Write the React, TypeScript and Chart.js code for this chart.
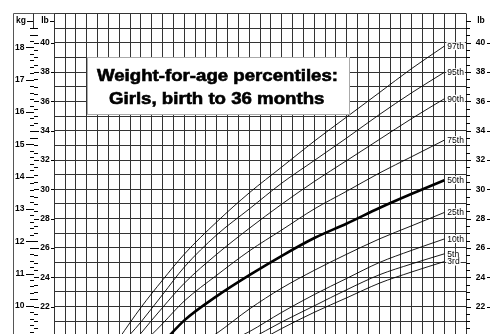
import React, { useEffect, useRef } from "react";
import { Chart, registerables } from "chart.js";

Chart.register(...registerables);

// ---- data (kg) ----
const months = [0, 2, 4, 6, 8, 10, 12, 15, 18, 21, 24, 27, 30, 33, 36];
const p97 = [4.2, 6.4, 8.0, 9.0, 9.95, 10.8, 11.6, 12.6, 13.5, 14.3, 15.1, 15.85, 16.6, 17.35, 18.04];
const p95 = [4.0, 6.1, 7.6, 8.7, 9.5, 10.35, 11.2, 12.2, 13.0, 13.8, 14.5, 15.2, 15.92, 16.6, 17.23];
const p90 = [3.8, 5.8, 7.2, 8.3, 9.15, 9.95, 10.7, 11.6, 12.4, 13.15, 13.85, 14.5, 15.15, 15.8, 16.41];
const p75 = [3.6, 5.4, 6.8, 7.9, 8.75, 9.45, 10.15, 10.95, 11.7, 12.35, 13.0, 13.55, 14.11, 14.62, 15.13];
const p50 = [3.4, 5.0, 6.3, 7.3, 8.15, 8.85, 9.55, 10.3, 10.95, 11.55, 12.1, 12.55, 13.03, 13.47, 13.89];
const p25 = [3.2, 4.6, 5.7, 6.6, 7.35, 7.95, 8.5, 9.15, 9.9, 10.55, 11.1, 11.6, 12.07, 12.48, 12.89];
const p10 = [2.9, 4.2, 5.3, 6.15, 6.85, 7.4, 7.95, 8.7, 9.2, 9.8, 10.35, 10.85, 11.34, 11.72, 12.07];
const p5 = [2.7, 4.0, 5.1, 5.95, 6.6, 7.15, 7.7, 8.4, 8.95, 9.5, 10.0, 10.5, 10.96, 11.3, 11.61];
const p3 = [2.6, 3.9, 5.0, 5.8, 6.45, 7.0, 7.55, 8.2, 8.75, 9.3, 9.8, 10.25, 10.7, 11.05, 11.37];

const seriesNames = ["97th", "95th", "90th", "75th", "50th", "25th", "10th", "5th", "3rd"];
const seriesValues = [p97, p95, p90, p75, p50, p25, p10, p5, p3];

const kgTicks = [10, 11, 12, 13, 14, 15, 16, 17, 18];
const lbTicks = [22, 24, 26, 28, 30, 32, 34, 36, 38, 40];
const titleLines = ["Weight-for-age percentiles:", "Girls, birth to 36 months"];

const LB_PER_KG = 2.20462;
const LB_MIN = 20.123;
const LB_MAX = 42;
const FONT = "'Liberation Sans', Arial, Helvetica, sans-serif";

const decorPlugin = {
  id: "decor",
  afterDatasetsDraw(chart: any) {
    const ctx = chart.ctx;
    const xs = chart.scales.x;
    const ylb = chart.scales.y;
    const ykg = chart.scales.kg;
    const area = chart.chartArea;
    ctx.save();

    // outer frame
    ctx.strokeStyle = "#555";
    ctx.lineWidth = 1;
    ctx.beginPath();
    ctx.moveTo(13.5, 334);
    ctx.lineTo(13.5, area.top);
    ctx.lineTo(area.left, area.top);
    ctx.stroke();

    // header divider
    ctx.strokeStyle = "#333";
    ctx.beginPath();
    ctx.moveTo(33.5, area.top);
    ctx.lineTo(33.5, ylb.getPixelForValue(41));
    ctx.stroke();

    ctx.fillStyle = "#000";
    ctx.textBaseline = "middle";
    ctx.font = `bold 8.5px ${FONT}`;
    const hy = ylb.getPixelForValue(41.5);
    ctx.textAlign = "center";
    ctx.fillText("kg", 21, hy);
    ctx.fillText("lb", 45, hy);
    ctx.fillText("lb", 481, hy);
    ctx.strokeStyle = "#000";
    ctx.beginPath();
    ctx.moveTo(27, Math.round(hy) + 0.5);
    ctx.lineTo(33, Math.round(hy) + 0.5);
    ctx.moveTo(50, Math.round(hy) + 0.5);
    ctx.lineTo(54, Math.round(hy) + 0.5);
    ctx.moveTo(area.right, Math.round(hy) + 0.5);
    ctx.lineTo(area.right + 5, Math.round(hy) + 0.5);
    ctx.stroke();

    // kg axis ticks
    ctx.beginPath();
    for (let v = 9; v <= 19; v += 0.2) {
      const kv = Math.round(v * 10) / 10;
      const y = Math.round(ykg.getPixelForValue(kv)) + 0.5;
      if (y < area.top + 12 || y > 334) continue;
      const major = Math.abs(kv - Math.round(kv)) < 1e-6;
      ctx.moveTo(major ? 26 : 30, y);
      ctx.lineTo(34, y);
    }
    // left and right lb ticks
    for (let v = 20; v <= 41; v += 0.5) {
      const y = Math.round(ylb.getPixelForValue(v)) + 0.5;
      if (y < area.top + 12 || y > 334) continue;
      const labeled = lbTicks.includes(v);
      ctx.moveTo(34, y);
      ctx.lineTo(labeled ? 39 : 38, y);
      if (labeled) {
        ctx.moveTo(51, y);
        ctx.lineTo(area.left, y);
      }
      ctx.moveTo(area.right, y);
      ctx.lineTo(area.right + (labeled ? 5 : 4), y);
      if (labeled) {
        ctx.moveTo(487, y);
        ctx.lineTo(490, y);
      }
    }
    ctx.stroke();

    ctx.font = `bold 8.5px ${FONT}`;
    ctx.textAlign = "right";
    kgTicks.forEach((v) => {
      ctx.fillText(String(v), 24.5, ykg.getPixelForValue(v));
    });
    ctx.textAlign = "center";
    lbTicks.forEach((v) => {
      const y = ylb.getPixelForValue(v);
      ctx.fillText(String(v), 45, y);
      ctx.fillText(String(v), 480.5, y);
    });

    // percentile labels
    ctx.font = `8.5px ${FONT}`;
    ctx.textAlign = "left";
    const lastX = xs.getPixelForValue(36);
    seriesNames.forEach((name, i) => {
      const vals = seriesValues[i];
      const y = ykg.getPixelForValue(vals[vals.length - 1]);
      const w = ctx.measureText(name).width;
      ctx.fillStyle = "#fff";
      ctx.fillRect(lastX + 2, y - 4, w + 2, 8);
      ctx.fillStyle = "#000";
      ctx.fillText(name, lastX + 3, y + 0.5);
    });

    // title box
    const bx = 87.5, by = 57.5, bw = 262, bh = 57;
    ctx.fillStyle = "#fff";
    ctx.fillRect(bx, by, bw, bh);
    ctx.strokeStyle = "#aaa";
    ctx.strokeRect(bx, by, bw, bh);
    ctx.fillStyle = "#000";
    ctx.strokeStyle = "#000";
    ctx.lineWidth = 0.6;
    ctx.font = `bold 16.5px ${FONT}`;
    ctx.textAlign = "center";
    const drawStretched = (t: string, cx: number, cy: number) => {
      ctx.save();
      ctx.translate(cx, cy);
      ctx.scale(1.13, 1);
      ctx.fillText(t, 0, 0);
      ctx.strokeText(t, 0, 0);
      ctx.restore();
    };
    drawStretched(titleLines[0], 217.5, 76.5);
    drawStretched(titleLines[1], 216.7, 99.5);
    ctx.restore();
  },
};

export default function App() {
  const ref = useRef<HTMLCanvasElement | null>(null);
  useEffect(() => {
    if (!ref.current) return;
    const datasets = seriesNames.map((name, i) => ({
      label: name,
      data: months.map((m, j) => ({ x: m, y: seriesValues[i][j] })),
      borderColor: "#000",
      borderWidth: name === "50th" ? 2.6 : 0.9,
      pointRadius: 0,
      cubicInterpolationMode: "monotone" as const,
      yAxisID: "kg",
      xAxisID: "x",
    }));
    const chart = new Chart(ref.current, {
      type: "line",
      data: { datasets },
      options: {
        animation: false,
        responsive: false,
        devicePixelRatio: 1,
        layout: { padding: { left: 54.3, right: 35, top: 13.5, bottom: 0 } },
        plugins: { legend: { display: false }, tooltip: { enabled: false } },
        scales: {
          x: {
            type: "linear",
            min: 0,
            max: 38,
            position: "bottom",
            ticks: { display: false, stepSize: 1, includeBounds: false },
            grid: { color: "#333", lineWidth: 1, drawTicks: false },
            border: { display: false },
          },
          y: {
            type: "linear",
            min: LB_MIN,
            max: LB_MAX,
            position: "left",
            ticks: { display: false, stepSize: 1, includeBounds: false },
            grid: { color: "#333", lineWidth: 1, drawTicks: false },
            border: { display: false },
          },
          kg: {
            type: "linear",
            min: LB_MIN / LB_PER_KG,
            max: LB_MAX / LB_PER_KG,
            display: false,
          },
        },
      },
      plugins: [decorPlugin],
    });
    return () => chart.destroy();
  }, []);
  return (
    <div style={{ position: "fixed", left: 0, top: 0, width: 501, height: 334, background: "#fff" }}>
      <canvas ref={ref} width={501} height={334} style={{ display: "block" }} />
    </div>
  );
}
